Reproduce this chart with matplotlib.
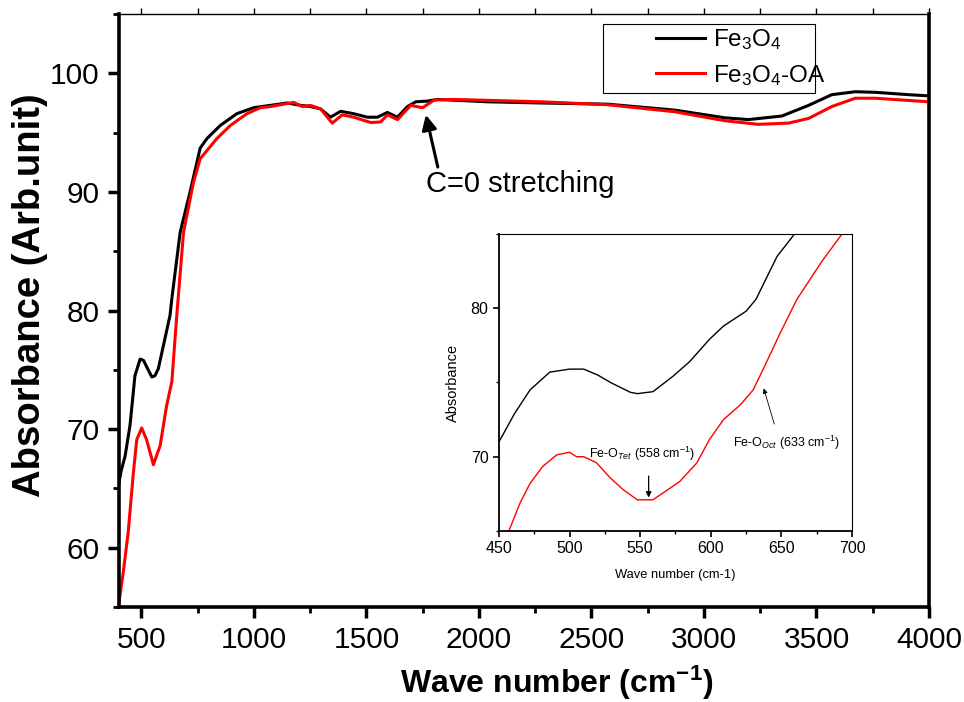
import matplotlib
matplotlib.use("Agg")
import matplotlib.pyplot as plt
from matplotlib.ticker import MultipleLocator, NullFormatter
from matplotlib.patches import Rectangle

plt.rcParams['font.family'] = ['Liberation Sans', 'DejaVu Sans']
plt.rcParams['mathtext.fontset'] = 'custom'
plt.rcParams['mathtext.rm'] = 'Liberation Sans'
plt.rcParams['mathtext.it'] = 'Liberation Sans:italic'
plt.rcParams['mathtext.bf'] = 'Liberation Sans:bold'

# ---- main spectrum data ----
wn_fe3o4 = [400, 410, 427, 449, 471, 494, 509, 530, 546, 560, 575, 597, 627, 635, 672, 716, 761,
            791, 850, 924, 998, 1073, 1147, 1207, 1251, 1296, 1340, 1385, 1443, 1504, 1548, 1593,
            1638, 1682, 1719, 1771, 1816, 2039, 2276, 2573, 2870, 3093, 3197, 3346, 3465, 3568,
            3672, 3761, 3910, 4000]
abs_fe3o4 = [65.5, 66.5, 67.7, 70.3, 74.5, 75.9, 75.8, 75.0, 74.4, 74.5, 75.1, 77.0, 79.6, 81.0,
             86.6, 90.0, 93.7, 94.5, 95.6, 96.6, 97.1, 97.3, 97.5, 97.3, 97.2, 97.0, 96.3, 96.8,
             96.6, 96.3, 96.3, 96.7, 96.3, 97.2, 97.6, 97.66, 97.8, 97.6, 97.5, 97.4, 96.9, 96.25,
             96.1, 96.4, 97.3, 98.2, 98.45, 98.4, 98.2, 98.1]

wn_oa = [400, 404, 419, 441, 464, 479, 501, 523, 553, 583, 612, 635, 657, 687, 731, 761, 835, 895,
         969, 1028, 1073, 1177, 1214, 1251, 1296, 1348, 1392, 1444, 1519, 1563, 1593, 1638, 1697,
         1749, 1801, 1890, 2276, 2573, 2870, 3093, 3241, 3375, 3465, 3568, 3672, 3761, 4000]
abs_oa = [55.3, 55.9, 57.9, 61.3, 66.3, 69.1, 70.1, 69.1, 67.0, 68.6, 72.0, 74.0, 79.6, 86.6, 90.8,
          92.8, 94.5, 95.6, 96.6, 97.1, 97.2, 97.55, 97.2, 97.3, 97.0, 95.8, 96.5, 96.3, 95.85,
          95.9, 96.5, 96.1, 97.3, 97.1, 97.75, 97.8, 97.6, 97.35, 96.76, 96.0, 95.7, 95.8, 96.2,
          97.2, 97.9, 97.9, 97.6]

# ---- inset data (450-700 cm-1) ----
inset_wn_fe3o4 = [450, 461, 472, 486, 500, 510, 520, 529, 543, 548, 559, 573, 585, 599, 609, 625,
                  632, 647, 661]
inset_abs_fe3o4 = [71.0, 72.9, 74.5, 75.7, 75.9, 75.9, 75.5, 75.0, 74.34, 74.25, 74.38, 75.4, 76.4,
                   77.9, 78.8, 79.8, 80.6, 83.5, 85.2]

inset_wn_oa = [457, 465, 472, 481, 491, 500, 505, 510, 519, 529, 538, 548, 559, 566, 578, 590,
               599, 609, 621, 630, 637, 649, 661, 670, 679, 693]
inset_abs_oa = [65.0, 66.9, 68.2, 69.35, 70.13, 70.3, 70.0, 70.0, 69.6, 68.56, 67.78, 67.1, 67.1,
                67.55, 68.33, 69.57, 71.15, 72.5, 73.5, 74.5, 75.87, 78.3, 80.6, 81.9, 83.2, 85.0]

labels = ['Fe$_3$O$_4$', 'Fe$_3$O$_4$-OA']
colors = ['black', 'red']

fig = plt.figure(figsize=(9.64, 7.02), dpi=100)
ax = fig.add_axes([0.1234, 0.1353, 0.8403, 0.8447])
l1, = ax.plot(wn_fe3o4, abs_fe3o4, color=colors[0], lw=2.2, label=labels[0])
l2, = ax.plot(wn_oa, abs_oa, color=colors[1], lw=2.2, label=labels[1])
ax.set_xlim(400, 4000)
ax.set_ylim(55, 105)
ax.xaxis.set_major_locator(MultipleLocator(500))
ax.xaxis.set_minor_locator(MultipleLocator(250))
ax.yaxis.set_major_locator(MultipleLocator(10))
ax.yaxis.set_minor_locator(MultipleLocator(5))
ax.tick_params(which='major', direction='out', length=8, width=2.5, labelsize=21.5, pad=6)
ax.tick_params(which='minor', direction='out', length=4.5, width=2.0)
for s in ['left', 'bottom', 'right']:
    ax.spines[s].set_linewidth(2.6)
ax.spines['top'].set_visible(False)

# thin top axis with small outward ticks
top = ax.secondary_xaxis('top')
top.xaxis.set_major_locator(MultipleLocator(250))
top.xaxis.set_major_formatter(NullFormatter())
top.tick_params(direction='out', length=4, width=1.0)
top.spines['top'].set_linewidth(1.0)

ax.set_xlabel('Wave number (cm$^{\\mathbf{-1}}$)', fontsize=23, fontweight='bold')
ax.set_ylabel('Absorbance (Arb.unit)', fontsize=27.5, fontweight='bold')
ax.xaxis.set_label_coords(0.541, -0.096)
ax.yaxis.set_label_coords(-0.088, 0.526)

# legend: frame drawn as a box, entries placed inside
ax.add_patch(Rectangle((0.6255, 0.8675), 0.2199, 0.0983, transform=fig.transFigure,
                       facecolor='white', edgecolor='black', lw=0.8, zorder=4, clip_on=False))
leg = ax.legend(handles=[l1, l2], loc='upper left', bbox_to_anchor=(0.6805, 0.9615),
                bbox_transform=fig.transFigure, fontsize=17.5, frameon=False,
                handlelength=2.0, handletextpad=0.33, borderpad=0.0, borderaxespad=0.0,
                labelspacing=0.45)
leg.set_zorder(6)

ax.annotate('', xy=(1764, 96.5), xytext=(1817, 92.1),
            arrowprops=dict(arrowstyle='-|>', color='black', lw=2.2, mutation_scale=22,
                            shrinkA=0, shrinkB=0))
ax.text(1764, 90.7, 'C=0 stretching', fontsize=21, va='center', ha='left')

# ---- inset ----
ins = fig.add_axes([0.5176, 0.2436, 0.3662, 0.4231])
ins.plot(inset_wn_fe3o4, inset_abs_fe3o4, color=colors[0], lw=1.0)
ins.plot(inset_wn_oa, inset_abs_oa, color=colors[1], lw=1.0)
ins.set_xlim(450, 700)
ins.set_ylim(65, 85)
ins.xaxis.set_major_locator(MultipleLocator(50))
ins.xaxis.set_minor_locator(MultipleLocator(25))
ins.yaxis.set_major_locator(MultipleLocator(10))
ins.yaxis.set_minor_locator(MultipleLocator(5))
ins.tick_params(which='major', direction='out', length=4, width=1.2, labelsize=11.5)
ins.tick_params(which='minor', direction='out', length=2.5, width=1.0)
for s in ['left', 'bottom']:
    ins.spines[s].set_linewidth(1.3)
for s in ['top', 'right']:
    ins.spines[s].set_linewidth(0.8)
ins.set_xlabel('Wave number (cm-1)', fontsize=9.3, labelpad=9)
ins.set_ylabel('Absorbance', fontsize=10.5, labelpad=8)

ins.text(514, 70.2, 'Fe-O$_{Tet}$ (558 cm$^{-1}$)', fontsize=9, va='center', ha='left')
ins.annotate('', xy=(556, 67.25), xytext=(556, 68.7),
             arrowprops=dict(arrowstyle='-|>', color='black', lw=0.9, mutation_scale=8,
                             shrinkA=0, shrinkB=0))
ins.text(616, 70.9, 'Fe-O$_{Oct}$ (633 cm$^{-1}$)', fontsize=9, va='center', ha='left')
ins.annotate('', xy=(637.5, 74.6), xytext=(645, 72.2),
             arrowprops=dict(arrowstyle='-|>', color='black', lw=0.6, mutation_scale=7,
                             shrinkA=0, shrinkB=0))

fig.savefig('out.png', dpi=100)
